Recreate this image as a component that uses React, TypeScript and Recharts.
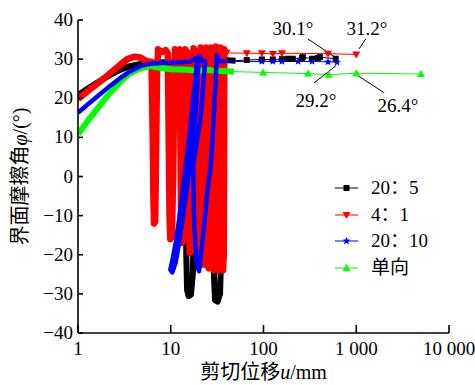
import React from 'react'
import { LineChart, Line, XAxis, YAxis, Legend, ReferenceLine, ReferenceDot } from 'recharts'

const FONT = "'Liberation Serif', 'Times New Roman', 'Noto Sans CJK SC', serif"

const X_TICKS = [1, 10, 100, 1000, 10000]
const X_TICK_LABELS = ['1', '10', '100', '1 000', '10 000']
const Y_TICKS = [-40, -30, -20, -10, 0, 10, 20, 30, 40]

// [shear displacement (mm), interface friction angle (deg)]
type Pt = [number, number]

// 20:5 — continuous record, then sparse end readings
const black205Dense: Pt[] = [
  [1, 20.8], [1.3, 22.6], [1.7, 24.3], [2.2, 25.9], [2.8, 27.2], [3.6, 28.2], [4.7, 28.8], [6, 29], [8, 29.2],
  [10, 29.2], [12, 29.3], [14.2, 29.3],
  [14.5, 0], [14.7, -20], [15, -29], [15.6, -30.6], [16.5, -30.2], [17.3, -25], [17.8, -10], [18.2, 10], [18.5, 29.5],
  [22, 30], [28, 30],
  [28.6, 0], [29.2, -25], [30, -31.6], [32, -32], [34, -30], [35, -20], [35.5, 0], [35.8, 29.9],
  [42, 29.7], [50, 29.6],
]
const black205Tail: Pt[] = [
  [66, 29.8], [96, 29.9], [126, 29.9], [158, 30], [184, 30.1], [207, 30.1], [260, 30.3], [266, 30.5],
  [334, 30.1], [386, 30.3], [405, 30.5], [600, 30.1],
]

// 4:1
const red41Dense: Pt[] = [
  [1, 19.8], [1.3, 22], [1.7, 24.1], [2.2, 26.3], [2.8, 28.4], [3.4, 30], [4, 30.6], [4.7, 30.4], [5.5, 29.5], [6.2, 29.3],
  [6.4, 10], [6.5, -5], [6.6, -12], [6.8, -11.5], [6.95, 5], [7.1, 25], [7.3, 32.5], [8, 31.8], [8.8, 32.3], [9.3, 31.5],
  [9.5, 10], [9.7, -10], [9.9, -16], [10.3, -15.5], [10.6, 0], [10.9, 20], [11.1, 32.5], [12, 31.8], [12.5, 32.5],
  [12.7, 10], [12.9, -10], [13.1, -17], [13.6, -16.5], [14, 0], [14.3, 32.5], [15.2, 31.6],
  [15.5, 10], [15.8, -10], [16, -19.5], [16.6, -19], [17.2, 0], [17.6, 32.8], [18.5, 32],
  [18.8, 0], [19.1, -20], [19.5, -21.5], [20.1, -20], [20.6, 0], [21, 33], [21.5, 32.2],
  [21.7, 0], [22.1, -22], [22.6, -22.5], [23.2, -20], [23.6, 0], [24, 33], [24.6, 32.3],
  [24.8, 0], [25.2, -23], [25.8, -23.5], [26.4, -20], [26.8, 0], [27.2, 33], [27.8, 32.5],
  [28, 0], [28.5, -23.5], [29.2, -24], [29.8, -21], [30.2, 0], [30.6, 33.2], [31.3, 32.5],
  [31.6, 0], [32, -23.5], [32.8, -24], [33.6, -22], [34.2, 0], [34.6, 33], [35.3, 32.6],
  [35.5, 0], [35.9, -23], [36.6, -24], [37.3, -20], [37.6, 0], [37.8, 32.5], [38.5, 31.8],
]
const red41Tail: Pt[] = [
  [40, 31.6], [66, 31.5], [96, 31.5], [126, 31.3], [158, 31.5], [496, 31.4], [1000, 31.2],
]

// 20:10
const blue2010Dense: Pt[] = [
  [1, 16.3], [1.3, 18.6], [1.7, 20.9], [2.2, 23.1], [2.8, 25], [3.6, 26.8], [4.7, 28.2], [6, 28.8], [8, 29],
  [10, 29.1], [13, 29.2], [16, 29.3], [19.5, 30.5],
  [17.5, 20], [15.5, 8], [14, 0], [12.8, -8], [11.5, -16], [10.5, -21], [9.9, -23.8], [10.4, -24.5],
  [11.3, -22], [12.5, -16], [14, -8], [15.5, 0], [17.3, 8], [19, 20], [20, 30.8],
  [22, 29.6], [23.5, 29.5],
  [21, 15], [17.5, 3], [17.8, -10], [18.5, -18], [19.3, -23], [20.2, -24.2], [21, -21], [23, -12], [25, -3],
  [27, 3], [29, 15], [31.5, 31], [34, 29.5], [40, 29.4],
]
const blue2010Tail: Pt[] = [
  [96, 29.4], [126, 29.4], [158, 29.4], [236, 29.4], [334, 29.4], [496, 29.3], [620, 29.2],
]

// 单向 (monotonic)
const green1Dense: Pt[] = [
  [1, 10.8], [1.3, 14.5], [1.7, 18], [2.2, 21.3], [2.8, 24], [3.6, 26.3], [4.7, 27.6], [6, 28.3], [7.5, 27.8],
  [10, 27.4], [15, 27.3], [20, 27], [25, 27.3], [30, 27], [40, 26.9], [48, 26.8],
]
const green1Tail: Pt[] = [
  [99, 26.6], [303, 26.3], [505, 26], [1000, 26.4], [5000, 26.2],
]

const toPts = (arr: Pt[]) => arr.map(([x, y]) => ({ x, y }))

type MarkKind = 'square' | 'down' | 'star' | 'up'

function Marker({ cx, cy, kind, color }: { cx: number; cy: number; kind: MarkKind; color: string }) {
  if (kind === 'square') return <rect x={cx - 3} y={cy - 3} width={6} height={6} fill={color} />
  if (kind === 'down') return <path d={`M${cx - 4},${cy - 3} L${cx + 4},${cy - 3} L${cx},${cy + 4} Z`} fill={color} />
  if (kind === 'up') return <path d={`M${cx - 4},${cy + 3} L${cx + 4},${cy + 3} L${cx},${cy - 4} Z`} fill={color} />
  const pts: string[] = []
  for (let i = 0; i < 10; i++) {
    const r = i % 2 === 0 ? 4.2 : 1.8
    const a = -Math.PI / 2 + (i * Math.PI) / 5
    pts.push(`${cx + r * Math.cos(a)},${cy + r * Math.sin(a)}`)
  }
  return <polygon points={pts.join(' ')} fill={color} />
}

// drawing order: black under red, blue on top
const SERIES = [
  { name: '20：5', color: '#000000', kind: 'square' as MarkKind, dense: black205Dense, tail: black205Tail, band: 6 },
  { name: '4：1', color: '#ff0000', kind: 'down' as MarkKind, dense: red41Dense, tail: red41Tail, band: 6.5 },
  { name: '单向', color: '#00ff00', kind: 'up' as MarkKind, dense: green1Dense, tail: green1Tail, band: 6 },
  { name: '20：10', color: '#0000ff', kind: 'star' as MarkKind, dense: blue2010Dense, tail: blue2010Tail, band: 4.5 },
]
const LEGEND_ORDER = ['20：5', '4：1', '20：10', '单向']

const XTick = ({ x, y, payload }: any) => {
  const i = X_TICKS.indexOf(payload.value)
  return (
    <g>
      <line x1={x} x2={x} y1={y} y2={y - 8} stroke="#000" strokeWidth={1.6} />
      <text x={x} y={y + 22} textAnchor="middle" fontFamily={FONT} fontSize={19} fill="#000">
        {X_TICK_LABELS[i]}
      </text>
    </g>
  )
}

const YTick = ({ x, y, payload }: any) => (
  <g>
    <line x1={x} x2={x + 5} y1={y} y2={y} stroke="#000" strokeWidth={1.6} />
    <text x={x - 5} y={y + 6} textAnchor="end" fontFamily={FONT} fontSize={19} fill="#000">
      {payload.value < 0 ? `−${Math.abs(payload.value)}` : payload.value}
    </text>
  </g>
)

function LegendBox() {
  return (
    <div style={{ fontFamily: FONT, fontSize: 19, lineHeight: '26.5px' }}>
      {LEGEND_ORDER.map((n) => {
        const s = SERIES.find((d) => d.name === n)!
        return (
          <div key={n} style={{ display: 'flex', alignItems: 'center', height: 26.5 }}>
            <svg width={28} height={12} style={{ marginRight: 9 }}>
              <line x1={1} x2={24} y1={6} y2={6} stroke={s.color} strokeWidth={1} />
              <Marker cx={12.5} cy={6} kind={s.kind} color={s.color} />
            </svg>
            <span>{n}</span>
          </div>
        )
      })}
    </div>
  )
}

const notes = [
  { text: '30.1°', x: 208, y: 38, seg: [{ x: 300, y: 35.2 }, { x: 580, y: 30.6 }] },
  { text: '31.2°', x: 1306, y: 38, seg: [{ x: 1270, y: 35.2 }, { x: 1070, y: 32.6 }] },
  { text: '29.2°', x: 368, y: 19.6, seg: [{ x: 350, y: 23.9 }, { x: 610, y: 28.4 }] },
  { text: '26.4°', x: 2818, y: 18.3, seg: [{ x: 1040, y: 25.8 }, { x: 2000, y: 21.4 }] },
]

export default function App() {
  return (
    <div style={{ position: 'absolute', left: 0, top: 0, background: '#fff' }}>
      <LineChart width={475} height={385} margin={{ top: 20, right: 26, bottom: 22, left: 18 }}>
        <XAxis
          dataKey="x"
          type="number"
          scale="log"
          domain={[1, 10000]}
          ticks={X_TICKS}
          allowDataOverflow
          height={30}
          tickSize={0}
          tickMargin={0}
          tick={<XTick />}
          axisLine={{ stroke: '#000', strokeWidth: 1.6 }}
          label={{
            content: ({ viewBox }: any) => (
              <text x={viewBox.x + viewBox.width / 2} y={viewBox.y + 46} textAnchor="middle" fontFamily={FONT} fontSize={20} fill="#000">
                剪切位移<tspan fontStyle="italic">u</tspan>/mm
              </text>
            ),
          }}
        />
        <YAxis
          type="number"
          domain={[-40, 40]}
          ticks={Y_TICKS}
          width={60}
          tickSize={0}
          tickMargin={0}
          tick={<YTick />}
          axisLine={{ stroke: '#000', strokeWidth: 1.6 }}
          label={{
            content: ({ viewBox }: any) => {
              const cy = viewBox.y + viewBox.height / 2
              return (
                <text x={20} y={cy} transform={`rotate(-90 20 ${cy})`} textAnchor="middle" dominantBaseline="central" fontFamily={FONT} fontSize={20} fill="#000">
                  界面摩擦角<tspan fontStyle="italic">φ</tspan>/(°)
                </text>
              )
            },
          }}
        />
        {SERIES.map((s) => (
          <Line
            key={`${s.name}-dense`}
            data={toPts(s.dense)}
            dataKey="y"
            type="linear"
            stroke={s.color}
            strokeWidth={s.band}
            strokeLinejoin="round"
            dot={false}
            legendType="none"
            isAnimationActive={false}
          />
        ))}
        {SERIES.map((s) => (
          <Line
            key={`${s.name}-tail`}
            data={toPts([s.dense[s.dense.length - 1], ...s.tail])}
            dataKey="y"
            name={s.name}
            type="linear"
            stroke={s.color}
            strokeWidth={1}
            dot={(p: any) =>
              p.index === 0 ? <g key={`d${p.index}`} /> : <Marker key={`d${p.index}`} cx={p.cx} cy={p.cy} kind={s.kind} color={s.color} />
            }
            isAnimationActive={false}
          />
        ))}
        {notes.map((n) => (
          <ReferenceLine key={`l${n.text}`} segment={n.seg} stroke="#000" strokeWidth={1} ifOverflow="visible" />
        ))}
        {notes.map((n) => (
          <ReferenceDot
            key={`t${n.text}`}
            x={n.x}
            y={n.y}
            r={0}
            stroke="none"
            fill="none"
            ifOverflow="visible"
            label={{ value: n.text, position: 'center', fontFamily: FONT, fontSize: 19, fill: '#000' }}
          />
        ))}
        <Legend
          layout="vertical"
          align="center"
          verticalAlign="middle"
          content={() => <LegendBox />}
          wrapperStyle={{ left: 334, top: 175, width: 130 }}
        />
      </LineChart>
    </div>
  )
}
